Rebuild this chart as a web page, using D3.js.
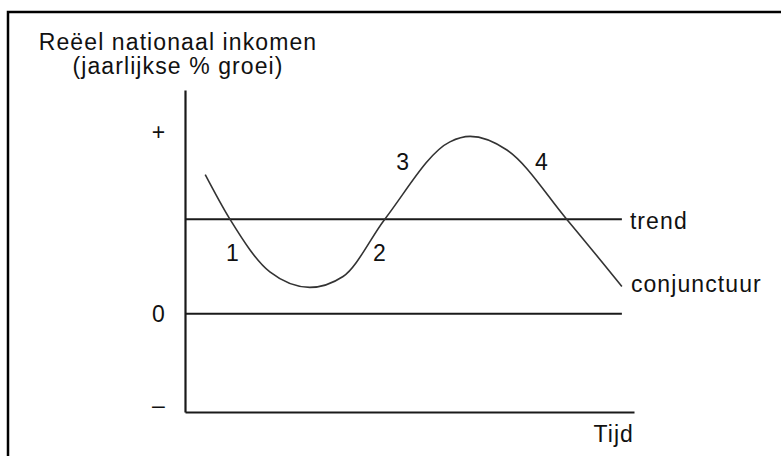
<!DOCTYPE html>
<html>
<meta charset="utf-8">
<style>
body { margin: 0; background: #fff; }
text {
  font-family: "Liberation Sans", Arial, sans-serif;
  font-size: 23px;
  letter-spacing: 1.1px;
  fill: #111;
}
</style>
<head>
  <script src="https://d3js.org/d3.v7.min.js"></script>
</head>
<body>
<script>
// time axis runs 0..100, growth: "+" = 2, "0" = 0, "-" = -1
var tickValues = [2, 0, -1];
var tickLabels = ["+", "0", "\u2013"];

var trendLevel = 1.04;
var lineEnd = 97.3;

// conjunctuur curve
var timeX = [4.5, 10, 18.9, 27.8, 35.2, 44.5, 59, 63.5, 71.7, 85, 97.3];
var conjunctuur = [1.53, 1.04, 0.46, 0.29, 0.41, 1.04, 1.89, 1.95, 1.80, 1.04, 0.30];

// phase numbers
var phaseLabels = ["1", "2", "3", "4"];
var phaseX = [10.7, 43.4, 48.6, 79.5];
var phaseY = [0.67, 0.67, 1.67, 1.67];

var titleLines = ["Reëel nationaal inkomen", "(jaarlijkse % groei)"];

var width = 781, height = 456;

var x = d3.scaleLinear().domain([0, 100]).range([185, 634]);
var y = d3.scaleLinear().domain([-1.08, 2.46]).range([412, 90]);

var svg = d3.select("body").append("svg")
    .attr("width", width)
    .attr("height", height);

// frame (only top and left edges show)
svg.append("rect")
    .attr("x", 8)
    .attr("y", 12)
    .attr("width", 820)
    .attr("height", 500)
    .attr("fill", "none")
    .attr("stroke", "#000")
    .attr("stroke-width", 2.5);

// title
svg.append("text")
    .attr("x", 178)
    .attr("y", 50)
    .attr("text-anchor", "middle")
  .selectAll("tspan")
    .data(titleLines)
  .enter().append("tspan")
    .attr("x", 178)
    .attr("dy", function(d, i) { return i ? 24 : 0; })
    .text(function(d) { return d; });

// y axis
var yAxis = svg.append("g")
    .attr("transform", "translate(" + x(0) + ",0)")
    .call(d3.axisLeft(y)
      .tickValues(tickValues)
      .tickSize(0)
      .tickSizeOuter(0)
      .tickFormat(function(d, i) { return tickLabels[i]; }));

yAxis.attr("font-family", null).attr("font-size", null);
yAxis.select(".domain").attr("stroke", "#1a1a1a").attr("stroke-width", 2.2);
yAxis.selectAll("text")
    .attr("x", -26)
    .attr("text-anchor", "middle")
    .attr("fill", "#111");

// x axis
var xAxis = svg.append("g")
    .attr("transform", "translate(0," + y.range()[0] + ")")
    .call(d3.axisBottom(x).tickValues([]).tickSizeOuter(0));
xAxis.select(".domain").attr("stroke", "#1a1a1a").attr("stroke-width", 2.2);

svg.append("text")
    .attr("x", x(100))
    .attr("y", 442)
    .attr("text-anchor", "end")
    .text("Tijd");

// zero line and trend line
svg.selectAll(".hline")
    .data([0, trendLevel])
  .enter().append("line")
    .attr("class", "hline")
    .attr("x1", x(0))
    .attr("x2", x(lineEnd))
    .attr("y1", function(d) { return y(d); })
    .attr("y2", function(d) { return y(d); })
    .attr("stroke", "#1a1a1a")
    .attr("stroke-width", 2);

// conjunctuur
var pts = timeX.map(function(t, i) { return [t, conjunctuur[i]]; });
var line = d3.line()
    .x(function(d) { return x(d[0]); })
    .y(function(d) { return y(d[1]); })
    .curve(d3.curveMonotoneX);

svg.append("path")
    .datum(pts)
    .attr("d", line)
    .attr("fill", "none")
    .attr("stroke", "#333")
    .attr("stroke-width", 1.6);

// right hand labels
svg.append("text")
    .attr("x", x(lineEnd) + 8)
    .attr("y", y(trendLevel) + 10)
    .text("trend");

svg.append("text")
    .attr("x", x(lineEnd) + 9)
    .attr("y", 292)
    .text("conjunctuur");

// phase numbers
svg.selectAll(".phase")
    .data(phaseLabels)
  .enter().append("text")
    .attr("class", "phase")
    .attr("x", function(d, i) { return x(phaseX[i]); })
    .attr("y", function(d, i) { return y(phaseY[i]); })
    .attr("dy", "0.35em")
    .attr("text-anchor", "middle")
    .text(function(d) { return d; });
</script>
</body>
</html>
